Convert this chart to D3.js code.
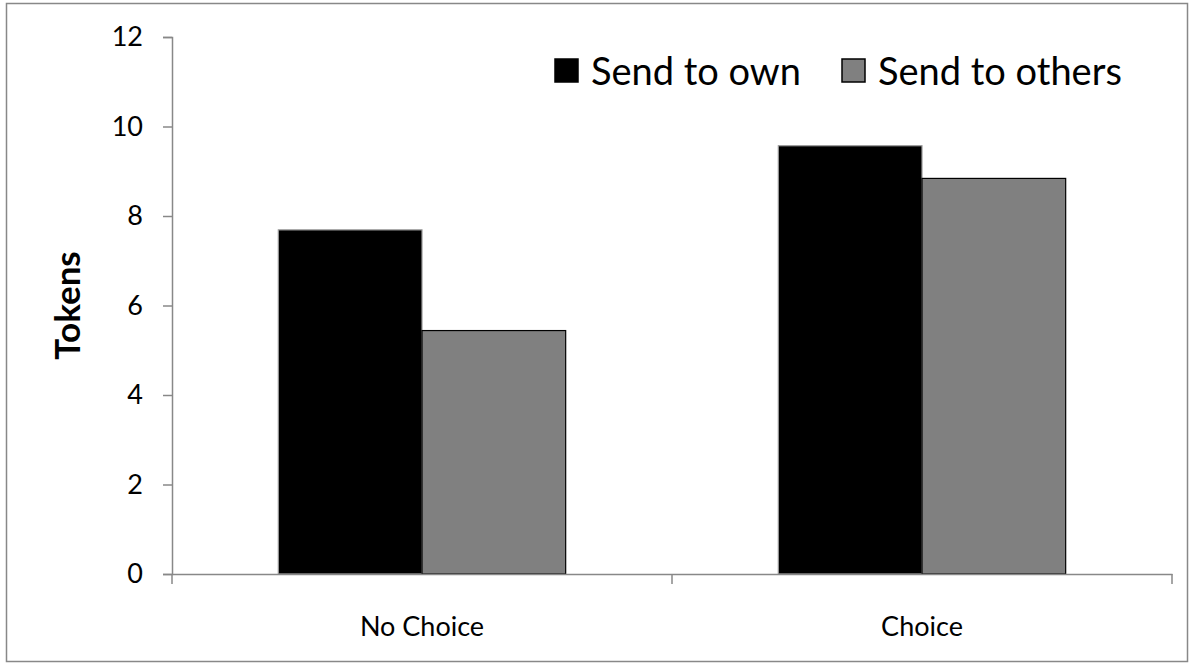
<!DOCTYPE html>
<html><head><meta charset="utf-8">
<script src="https://cdn.jsdelivr.net/npm/d3@7"></script>
<style>body{margin:0;background:#fff}svg{display:block}</style>
</head><body>
<svg id="chart" width="1194" height="669"></svg>
<script>
const categories = ["No Choice", "Choice"];
const seriesNames = ["Send to own", "Send to others"];
const sendToOwn = [7.69, 9.57];
const sendToOthers = [5.44, 8.84];
const yTicks = [0, 2, 4, 6, 8, 10, 12];
const colors = ["#000000", "#808080"];

const font = "Lato, 'Open Sans', sans-serif";
const svg = d3.select("#chart");
const W = 1194, H = 669;
const m = {left: 172, right: 22, top: 37, bottom: 95};

svg.append("rect").attr("x", 6.5).attr("y", 3.5).attr("width", 1181).attr("height", 658)
  .attr("fill", "#fff").attr("stroke", "#888").attr("stroke-width", 1.5);

const x0 = d3.scaleBand().domain(categories).range([m.left, W - m.right]).paddingInner(0).paddingOuter(0);
const x1 = d3.scaleBand().domain(seriesNames).range([0, x0.bandwidth()]).paddingInner(0).paddingOuter(0.74);
const y = d3.scaleLinear().domain([0, 12]).range([H - m.bottom, m.top]);

const data = categories.map((c, i) => ({cat: c, vals: [sendToOwn[i], sendToOthers[i]]}));

const g = svg.selectAll("g.cat").data(data).enter().append("g")
  .attr("transform", d => `translate(${x0(d.cat)},0)`);
g.selectAll("rect").data(d => d.vals.map((v, j) => ({v, j})))
  .enter().append("rect")
  .attr("x", d => x1(seriesNames[d.j]))
  .attr("y", d => y(d.v))
  .attr("width", x1.bandwidth())
  .attr("height", d => y(0) - y(d.v))
  .attr("fill", d => colors[d.j])
  .attr("stroke", d => d.j === 0 ? "#999" : "#000")
  .attr("stroke-width", 1.2);

// y axis
const yAxis = svg.append("g").attr("transform", `translate(${m.left},0)`)
  .call(d3.axisLeft(y).tickValues(yTicks).tickSize(9).tickPadding(20).tickFormat(d3.format("d")));
yAxis.attr("font-size", null).attr("font-family", null);
yAxis.select(".domain").attr("stroke", "#888").attr("stroke-width", 1.5);
yAxis.selectAll(".tick line").attr("stroke", "#888").attr("stroke-width", 1.5);
yAxis.selectAll("text").style("font-family", font).style("font-size", "27px").attr("fill", "#000");

// x axis
const xAxis = svg.append("g").attr("transform", `translate(0,${y(0)})`)
  .call(d3.axisBottom(x0).tickSize(0).tickPadding(0).tickFormat(""));
xAxis.select(".domain").attr("stroke", "#888").attr("stroke-width", 1.5);
const bounds = [m.left, m.left + x0.bandwidth(), W - m.right];
xAxis.selectAll("line.sep").data(bounds).enter().append("line").attr("class", "sep")
  .attr("x1", d => d).attr("x2", d => d).attr("y1", 0).attr("y2", 10)
  .attr("stroke", "#888").attr("stroke-width", 1.5);
xAxis.selectAll("text.cat").data(categories).enter().append("text").attr("class", "cat")
  .attr("x", d => x0(d) + x0.bandwidth() / 2).attr("y", 62)
  .attr("text-anchor", "middle").style("font-family", font).style("font-size", "27px").attr("fill", "#000")
  .text(d => d);

// y title
svg.append("text").attr("transform", `translate(80,${(y(0) + y(12)) / 2}) rotate(-90)`)
  .attr("text-anchor", "middle").style("font-family", font).attr("font-weight", "bold")
  .style("font-size", "35px").attr("fill", "#000").text("Tokens");

// legend
const legend = svg.append("g");
const legX = [555, 842];
seriesNames.forEach((s, j) => {
  legend.append("rect").attr("x", legX[j]).attr("y", 59).attr("width", 23).attr("height", 23)
    .attr("fill", colors[j]).attr("stroke", "#000").attr("stroke-width", 1.5);
  legend.append("text").attr("x", legX[j] + 36).attr("y", 85)
    .style("font-family", font).style("font-size", "38px").attr("fill", "#000").text(s);
});
</script>
</body></html>
